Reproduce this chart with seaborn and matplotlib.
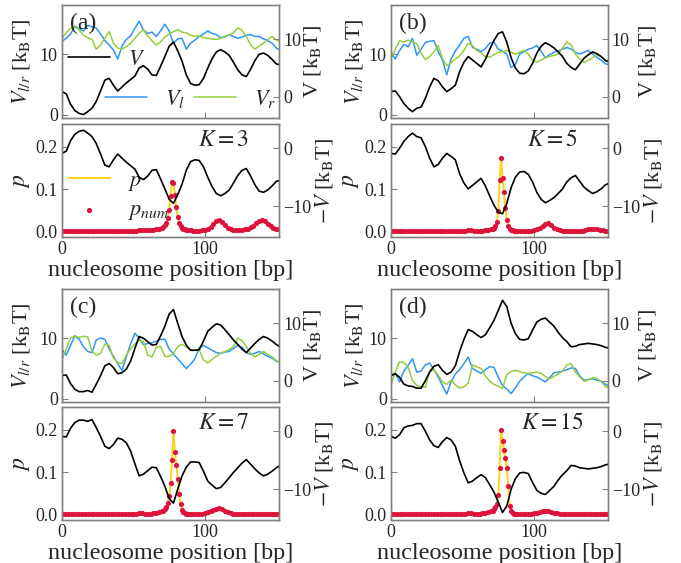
import matplotlib
matplotlib.use("Agg")
import matplotlib.pyplot as plt
import seaborn as sns

# positions (bp) for the potentials, and for p / p_num (denser around the peak)
X = list(range(0, 151, 3)) + [152]
P_X = list(range(0, 70, 2)) + list(range(70, 88)) + list(range(88, 151, 2)) + [152]

# ---- panel (a), K = 3
V_A = [0.9, 0.5, -1.3, -2.4, -2.9, -3.1, -2.6, -2.0, -0.8, 1.0,
       2.9, 3.2, 2.0, 1.0, 1.7, 2.4, 3.0, 3.6, 5.0, 5.4,
       4.8, 3.8, 3.7, 5.3, 7.0, 8.8, 9.5, 8.0, 6.2, 3.8,
       2.3, 2.0, 2.1, 3.2, 5.0, 6.6, 7.8, 8.2, 7.8, 7.2,
       6.0, 4.7, 3.8, 3.5, 4.8, 6.3, 7.4, 7.6, 7.2, 6.5,
       5.7, 5.6]
VL_A = [12.1, 12.6, 13.3, 14.6, 14.2, 13.8, 14.7, 14.5, 14.3, 13.3,
        12.2, 11.5, 10.7, 9.2, 11.3, 12.4, 13.0, 14.2, 15.4, 14.0,
        13.4, 13.6, 12.9, 13.8, 14.9, 13.8, 11.8, 12.5, 12.6, 10.8,
        11.8, 12.3, 12.9, 13.3, 13.8, 13.4, 13.2, 12.7, 12.8, 13.2,
        12.9, 12.6, 12.8, 13.1, 13.2, 12.9, 12.9, 12.5, 12.2, 11.8,
        11.0, 10.7]
VR_A = [12.6, 13.5, 14.2, 14.5, 14.0, 13.1, 12.7, 12.4, 10.8, 11.5,
        12.6, 13.7, 11.8, 11.0, 10.8, 11.2, 11.8, 12.6, 13.4, 14.0,
        13.0, 12.2, 11.5, 12.0, 12.8, 13.3, 13.7, 14.0, 13.6, 13.5,
        13.1, 12.9, 13.0, 12.7, 12.6, 12.5, 12.4, 12.6, 12.9, 13.2,
        13.5, 14.3, 13.9, 12.9, 11.5, 10.8, 11.3, 11.8, 12.4, 12.9,
        12.3, 12.1]
P_A = ([0.002] * 26 + [0.003, 0.004, 0.005, 0.004, 0.004, 0.004, 0.005, 0.006, 0.008]
       + [0.010, 0.012, 0.016, 0.022, 0.033, 0.052, 0.085, 0.118, 0.116,
          0.088, 0.058, 0.036, 0.022, 0.014, 0.010, 0.008, 0.006, 0.005]
       + [0.004, 0.004, 0.003, 0.003, 0.003, 0.004, 0.005, 0.007, 0.011, 0.018,
          0.025, 0.029, 0.024, 0.016, 0.010, 0.007, 0.005, 0.004, 0.004, 0.005,
          0.006, 0.008, 0.011, 0.015, 0.021, 0.026, 0.029, 0.026, 0.018, 0.013,
          0.010, 0.008, 0.007])

# ---- panel (b), K = 5
V_B = [0.9, 1.0, 0.0, -1.2, -2.0, -2.6, -2.0, -1.8, -0.3, 1.7,
       3.2, 2.8, 1.7, 0.9, 1.4, 2.0, 4.4, 6.0, 7.0, 6.4,
       5.8, 5.2, 6.5, 8.2, 9.8, 11.0, 11.3, 9.5, 6.8, 5.0,
       4.1, 4.0, 4.5, 5.8, 7.6, 8.8, 9.4, 9.0, 8.5, 7.8,
       7.0, 5.8, 5.1, 4.7, 5.7, 6.7, 7.3, 7.8, 7.5, 7.0,
       6.3, 6.1]
VL_B = [10.3, 9.2, 10.6, 11.6, 11.2, 12.6, 9.8, 10.8, 11.9, 12.1,
        12.2, 10.4, 9.0, 6.6, 9.2, 10.5, 11.5, 12.6, 12.9, 11.1,
        10.8, 10.4, 10.9, 11.8, 12.0, 10.8, 10.5, 10.0, 7.8, 8.3,
        10.0, 10.4, 10.8, 11.0, 11.4, 10.5, 9.4, 9.9, 10.3, 10.5,
        10.8, 11.1, 10.8, 10.3, 10.0, 10.3, 10.6, 10.0, 9.5, 9.0,
        8.4, 8.3]
VR_B = [9.2, 10.8, 12.2, 12.0, 12.3, 12.0, 11.7, 10.2, 9.1, 9.6,
        10.4, 11.4, 9.2, 8.1, 8.6, 9.2, 9.7, 10.6, 11.8, 11.4,
        10.6, 10.2, 9.6, 9.5, 9.9, 10.3, 10.4, 10.6, 10.3, 10.0,
        10.3, 10.6, 10.0, 9.0, 8.7, 9.0, 9.4, 9.6, 9.8, 10.0,
        11.0, 12.0, 11.5, 10.0, 9.2, 8.6, 9.0, 9.4, 9.9, 9.6,
        9.0, 8.9]
P_B = ([0.002] * 26 + [0.003, 0.004, 0.004, 0.003, 0.003, 0.003, 0.003, 0.004, 0.005]
       + [0.006, 0.008, 0.010, 0.014, 0.024, 0.050, 0.122, 0.173, 0.128,
          0.094, 0.056, 0.029, 0.014, 0.008, 0.005, 0.004, 0.003, 0.003]
       + [0.003, 0.003, 0.003, 0.003, 0.003, 0.003, 0.004, 0.006, 0.010, 0.015,
          0.019, 0.020, 0.016, 0.010, 0.006, 0.004, 0.003, 0.003, 0.003, 0.003,
          0.003, 0.003, 0.003, 0.003, 0.004, 0.006, 0.007, 0.008, 0.007, 0.005,
          0.004, 0.003, 0.003])

# ---- panel (c), K = 7
V_C = [0.9, 1.0, -0.5, -1.5, -1.9, -1.9, -1.7, -2.0, -0.6, 0.9,
       2.6, 3.0, 2.3, 1.2, 1.4, 2.0, 3.4, 5.6, 7.7, 7.4,
       6.8, 6.2, 6.3, 7.8, 9.5, 11.6, 12.4, 10.0, 7.7, 6.2,
       5.3, 5.3, 5.4, 6.9, 8.6, 9.3, 9.9, 9.7, 8.9, 8.0,
       7.1, 6.3, 5.5, 4.9, 5.7, 6.5, 7.2, 7.7, 7.4, 6.9,
       6.3, 6.0]
VL_C = [8.1, 7.2, 8.8, 10.4, 9.8, 8.6, 7.8, 7.6, 9.7, 10.0,
        9.8, 8.2, 7.0, 5.8, 4.7, 6.9, 9.0, 10.8, 10.0, 8.9,
        9.1, 9.2, 9.5, 9.8, 9.8, 8.2, 7.4, 6.6, 5.8, 5.0,
        5.7, 6.6, 8.4, 8.8, 8.4, 8.0, 7.6, 7.5, 7.7, 7.8,
        8.3, 8.8, 8.5, 7.6, 7.3, 7.5, 7.8, 7.4, 7.0, 6.7,
        6.2, 6.1]
VR_C = [6.4, 8.2, 10.0, 10.3, 10.1, 10.3, 10.2, 7.8, 7.2, 7.5,
        9.0, 8.8, 6.7, 6.0, 5.8, 7.2, 8.2, 9.0, 9.6, 9.4,
        7.2, 6.9, 8.5, 8.6, 7.0, 7.0, 7.5, 8.6, 9.0, 8.5,
        8.1, 8.0, 8.1, 6.4, 5.9, 6.5, 7.0, 7.5, 7.8, 8.1,
        8.6, 10.0, 9.6, 8.6, 7.5, 6.9, 7.3, 7.8, 7.3, 6.9,
        6.3, 6.1]
P_C = ([0.002] * 26 + [0.003, 0.004, 0.004, 0.003, 0.003, 0.003, 0.004, 0.005, 0.007]
       + [0.009, 0.010, 0.013, 0.018, 0.028, 0.045, 0.075, 0.130, 0.198,
          0.148, 0.118, 0.085, 0.050, 0.025, 0.011, 0.006, 0.004, 0.003]
       + [0.003, 0.003, 0.003, 0.003, 0.003, 0.003, 0.004, 0.006, 0.009, 0.012,
          0.015, 0.016, 0.013, 0.009, 0.006, 0.004, 0.003, 0.003, 0.003, 0.003,
          0.003, 0.003, 0.003, 0.003, 0.003, 0.003, 0.003, 0.003, 0.003, 0.003,
          0.003, 0.003, 0.003])

# ---- panel (d), K = 15
V_D = [0.9, 1.2, 0.6, -0.6, -0.9, -1.0, -1.3, -1.3, 0.0, 1.5,
       2.5, 2.8, 1.8, 1.1, 1.5, 2.6, 5.1, 7.2, 8.9, 8.6,
       8.0, 7.5, 8.0, 9.2, 10.5, 12.2, 14.0, 12.9, 10.0, 8.2,
       7.2, 7.1, 7.3, 8.8, 10.2, 10.7, 10.9, 10.2, 9.5, 8.4,
       7.5, 6.8, 5.9, 6.0, 6.3, 6.4, 6.5, 6.4, 6.3, 6.1,
       5.8, 5.7]
VL_D = [3.9, 4.3, 2.8, 4.6, 5.5, 6.6, 4.4, 4.6, 5.6, 5.9,
        4.8, 3.6, 2.2, 0.8, 2.8, 4.1, 4.8, 5.8, 6.9, 5.0,
        4.6, 4.2, 4.8, 5.3, 5.2, 3.6, 2.2, 1.6, 0.9, 1.8,
        2.9, 3.6, 4.2, 3.8, 3.6, 3.2, 2.8, 3.5, 4.3, 4.4,
        4.6, 4.8, 5.1, 5.0, 3.8, 3.1, 3.2, 3.3, 3.1, 2.9,
        2.4, 2.2]
VR_D = [2.2, 4.5, 6.1, 6.0, 5.2, 3.0, 2.2, 2.0, 1.9, 4.6,
        4.8, 3.9, 2.8, 2.4, 3.1, 2.3, 1.8, 2.0, 2.6, 5.6,
        5.3, 5.0, 3.8, 2.9, 2.4, 2.1, 1.7, 4.0, 4.5, 4.7,
        4.5, 4.3, 4.2, 4.3, 4.4, 4.2, 3.7, 3.3, 3.7, 4.1,
        4.6, 5.6, 5.8, 4.4, 3.6, 2.9, 3.1, 3.5, 3.4, 2.9,
        2.0, 1.9]
P_D = ([0.002] * 26 + [0.003, 0.004, 0.004, 0.003, 0.003, 0.003, 0.004, 0.005, 0.007]
       + [0.008, 0.010, 0.013, 0.018, 0.026, 0.047, 0.110, 0.200, 0.174,
          0.153, 0.133, 0.110, 0.067, 0.022, 0.008, 0.004, 0.003, 0.003]
       + [0.003, 0.003, 0.003, 0.003, 0.003, 0.003, 0.004, 0.005, 0.007, 0.008,
          0.009, 0.008, 0.007, 0.005, 0.004, 0.003, 0.003, 0.003, 0.003, 0.003,
          0.003, 0.003, 0.003, 0.003, 0.003, 0.003, 0.003, 0.003, 0.003, 0.003,
          0.003, 0.003, 0.003])

LETTERS = ["(a)", "(b)", "(c)", "(d)"]
KS = [3, 5, 7, 15]

BLUE = "#2f95f5"
GREEN = "#94cf3a"
YELLOW = "#ffd21a"
RED = "#dc143c"
GRAY = "#808080"

sns.set_theme(style="ticks")
plt.rcParams["font.family"] = ["Liberation Serif", "DejaVu Serif"]
plt.rcParams["mathtext.fontset"] = "stix"

fig = plt.figure(figsize=(6.81, 5.63), dpi=100)

# axes boxes in figure fraction (left, bottom of upper panel, bottom of lower panel)
lefts = [0.0910, 0.5742, 0.0910, 0.5742]
up_bot = [0.7904, 0.7904, 0.2860, 0.2860]
lo_bot = [0.5790, 0.5790, 0.0764, 0.0764]
W, H = 0.3190, 0.2000
# the two columns place their right-hand labels a little differently
left_lab = [-0.138, -0.12, -0.138, -0.12]
right_lab = [1.105, 1.13, 1.105, 1.13]
right_pad = [3, 2, 3, 2]


def style(ax, pad=3):
    for s in ax.spines.values():
        s.set_color(GRAY)
        s.set_linewidth(1.0)
    ax.tick_params(direction="in", length=4, width=0.8, color=GRAY,
                   labelsize=13, pad=pad)


panels = [(V_A, VL_A, VR_A, P_A), (V_B, VL_B, VR_B, P_B),
          (V_C, VL_C, VR_C, P_C), (V_D, VL_D, VR_D, P_D)]

for i, (V, VL, VR, P) in enumerate(panels):
    # upper panel: V_l, V_r on the left axis, V on the right axis
    ax = fig.add_axes([lefts[i], up_bot[i], W, H])
    sns.lineplot(x=X, y=VL, ax=ax, color=BLUE, lw=1.1, label=r"$V_l$")
    sns.lineplot(x=X, y=VR, ax=ax, color=GREEN, lw=1.1, label=r"$V_r$")
    ax.set_xlim(0, 152)
    ax.set_ylim(-0.5, 18)
    ax.set_xticks([0, 100])
    ax.set_xticklabels([])
    ax.set_yticks([0, 10])
    ax.set_ylabel(r"$V_{l/r}$ [k$_\mathrm{B}$T]", fontsize=16)
    ax.yaxis.set_label_coords(left_lab[i], 0.5)
    style(ax)
    axr = ax.twinx()
    sns.lineplot(x=X, y=V, ax=axr, color="black", lw=1.2, label=r"$V$")
    axr.set_ylim(-3.7, 15.9)
    axr.set_yticks([0, 10])
    axr.set_ylabel(r"V [k$_\mathrm{B}$T]", fontsize=16)
    axr.yaxis.set_label_coords(right_lab[i], 0.5)
    style(axr, right_pad[i])
    ax.text(0.035, 0.84, LETTERS[i], transform=ax.transAxes, fontsize=17,
            ha="left", va="center")
    if i == 0:
        ax.legend(loc="center left", bbox_to_anchor=(0.198, 0.17), ncol=2,
                  frameon=False, fontsize=16, borderpad=0, borderaxespad=0,
                  handlelength=1.9, columnspacing=0.4)
        axr.legend(loc="center left", bbox_to_anchor=(0.028, 0.52),
                   frameon=False, fontsize=16, borderpad=0, borderaxespad=0,
                   handlelength=1.9)
    else:
        ax.get_legend().remove()
        axr.get_legend().remove()

    # lower panel: p and p_num on the left axis, -V on the right axis
    ab = fig.add_axes([lefts[i], lo_bot[i], W, H])
    sns.lineplot(x=P_X, y=P, ax=ab, color=YELLOW, lw=1.4, label=r"$p$")
    sns.scatterplot(x=P_X, y=P, ax=ab, color=RED, s=14, linewidth=0,
                    zorder=3, label=r"$p_{num}$")
    ab.set_xlim(0, 152)
    ab.set_ylim(-0.012, 0.253)
    ab.set_xticks([0, 100])
    ab.set_yticks([0.0, 0.1, 0.2])
    ab.set_yticklabels(["0.0", "0.1", "0.2"])
    ab.set_ylabel(r"$p$", fontsize=17)
    ab.yaxis.set_label_coords(-0.14, 0.5)
    ab.set_xlabel("nucleosome position [bp]", fontsize=17.4, labelpad=1)
    style(ab)
    abr = ab.twinx()
    sns.lineplot(x=X, y=[-v for v in V], ax=abr, color="black", lw=1.2)
    abr.set_ylim(-15.3, 4.1)
    abr.set_yticks([-10, 0])
    abr.set_ylabel(r"$-V$ [k$_\mathrm{B}$T]", fontsize=16)
    abr.yaxis.set_label_coords(1.155, 0.5)
    style(abr)
    ab.text(0.745, 0.86, r"$K=%d$" % KS[i], transform=ab.transAxes,
            fontsize=17, ha="center", va="center")
    if i == 0:
        ab.legend(loc="center left", bbox_to_anchor=(0.028, 0.36),
                  frameon=False, fontsize=16, borderpad=0, borderaxespad=0,
                  handlelength=1.9, labelspacing=0.3, scatterpoints=1,
                  markerscale=1.0)
    else:
        ab.get_legend().remove()

fig.savefig("out.png", dpi=100)
